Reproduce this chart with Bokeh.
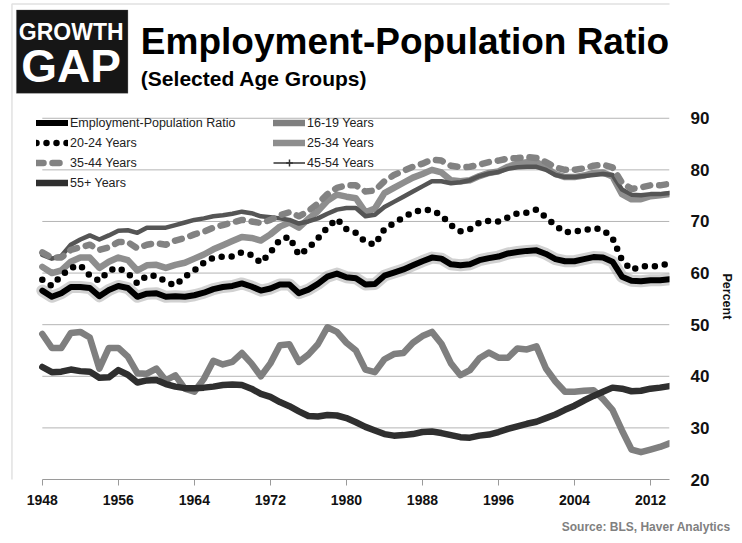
import math
from bokeh.plotting import figure
from bokeh.models import (Range1d, FixedTicker, Label, BoxAnnotation, Legend,
                          LegendItem, Title)
from bokeh.embed import file_html
from bokeh.resources import INLINE

# ---------------- data (annual) ----------------
years = list(range(1948, 2015))

emp_pop = [56.6, 55.4, 56.1, 57.3, 57.3, 57.1, 55.5, 56.7, 57.5, 57.1,
           55.4, 56.0, 56.1, 55.4, 55.5, 55.4, 55.7, 56.2, 56.9, 57.3,
           57.5, 58.0, 57.4, 56.6, 57.0, 57.8, 57.8, 56.1, 56.8, 57.9,
           59.3, 59.9, 59.2, 59.0, 57.8, 57.9, 59.5, 60.1, 60.7, 61.5,
           62.3, 63.0, 62.8, 61.7, 61.5, 61.7, 62.5, 62.9, 63.2, 63.8,
           64.1, 64.3, 64.4, 63.7, 62.7, 62.3, 62.3, 62.7, 63.1, 63.0,
           62.2, 59.3, 58.5, 58.4, 58.6, 58.6, 58.8]

age_16_19 = [48.2, 45.5, 45.5, 48.4, 48.6, 47.5, 41.5, 45.5, 45.5, 43.8,
             40.6, 40.5, 41.5, 39.2, 40.2, 37.6, 37.0, 39.5, 43.0, 42.3,
             42.8, 44.5, 42.5, 40.0, 42.5, 46.0, 46.2, 42.8, 44.2, 46.2,
             49.5, 48.6, 46.5, 45.0, 41.3, 40.8, 43.3, 44.3, 44.5, 46.5,
             47.8, 48.6, 46.3, 42.5, 40.2, 41.2, 43.5, 44.6, 43.6, 43.6,
             45.4, 45.2, 45.8, 41.5, 39.0, 37.0, 37.0, 37.2, 37.3, 35.6,
             33.5, 29.5, 25.8, 25.3, 25.8, 26.3, 27.0]

age_20_24 = [58.7, 57.5, 59.5, 61.0, 61.5, 59.5, 58.5, 60.5, 61.0, 60.0,
             58.0, 59.5, 59.5, 58.3, 57.6, 59.3, 60.5, 62.0, 63.0, 63.2,
             63.2, 64.0, 63.5, 62.0, 64.0, 66.5, 67.0, 63.5, 64.8, 66.7,
             68.8, 70.5, 68.5, 67.8, 66.0, 65.5, 68.5, 69.7, 70.8, 71.8,
             72.2, 72.2, 71.2, 69.3, 68.1, 68.5, 69.8, 70.1, 70.0, 70.8,
             71.6, 71.7, 72.3, 70.8, 69.2, 67.9, 68.1, 68.3, 68.7, 68.4,
             66.8, 62.5, 60.6, 61.3, 61.3, 61.4, 61.9]

age_25_34 = [61.2, 60.0, 60.5, 62.2, 63.0, 63.0, 61.0, 62.2, 63.0, 62.5,
             60.5, 61.5, 61.6, 61.0, 61.6, 62.0, 62.8, 63.6, 64.6, 65.4,
             66.2, 67.0, 66.8, 66.3, 67.5, 69.0, 69.8, 68.8, 70.5, 72.0,
             74.0, 75.2, 74.8, 74.5, 71.8, 72.5, 75.5, 76.5, 77.5, 78.5,
             79.2, 80.0, 79.5, 78.0, 77.8, 78.0, 78.8, 79.4, 79.7, 80.6,
             81.2, 81.5, 81.5, 80.4, 79.2, 78.6, 78.6, 78.9, 79.4, 79.5,
             78.7, 75.3, 74.3, 74.3, 74.9, 75.1, 75.3]

age_35_44 = [64.0, 63.0, 63.0, 64.5, 65.0, 65.5, 64.5, 65.0, 66.0, 66.0,
             64.8, 65.5, 65.8, 65.5, 66.3, 66.8, 67.5, 68.0, 68.8, 69.3,
             69.8, 70.3, 70.0, 69.7, 70.3, 71.2, 71.8, 71.0, 72.0, 73.5,
             75.3, 76.5, 77.0, 77.0, 75.8, 76.0, 77.8, 79.0, 79.8, 80.6,
             81.2, 82.0, 81.8, 80.8, 80.5, 80.6, 81.0, 81.5, 81.8, 82.2,
             82.3, 82.5, 82.3, 81.5, 80.5, 80.0, 80.0, 80.3, 80.8, 81.0,
             80.5, 77.5, 76.3, 76.6, 77.0, 77.0, 77.3]

age_45_54 = [63.5, 62.8, 63.3, 65.5, 66.5, 67.3, 66.5, 67.3, 68.2, 68.3,
             67.8, 68.8, 68.8, 68.8, 69.3, 69.8, 70.3, 70.6, 71.0, 71.2,
             71.5, 71.9, 71.6, 71.0, 70.8, 70.6, 70.3, 69.6, 70.0, 70.6,
             71.5, 72.3, 72.6, 72.6, 71.0, 71.3, 72.8, 73.8, 74.8, 75.8,
             76.8, 77.8, 77.8, 77.4, 77.6, 78.0, 78.8, 79.3, 79.6, 80.2,
             80.5, 80.6, 80.6, 80.0, 79.0, 78.6, 78.6, 78.8, 79.0, 79.2,
             79.0, 76.2, 75.2, 75.1, 75.3, 75.3, 75.5]

age_55_plus = [41.8, 40.8, 40.9, 41.3, 41.0, 40.9, 39.7, 39.8, 41.2, 40.3,
               38.8, 39.2, 39.3, 38.5, 38.0, 37.7, 37.7, 37.8, 38.0, 38.3,
               38.4, 38.3, 37.6, 36.6, 36.0, 35.0, 34.2, 33.2, 32.3, 32.2,
               32.5, 32.4, 31.9, 31.1, 30.2, 29.5, 28.8, 28.5, 28.6, 28.8,
               29.2, 29.3, 29.0, 28.6, 28.2, 28.1, 28.5, 28.7, 29.2, 29.8,
               30.3, 30.8, 31.2, 31.9, 32.6, 33.5, 34.3, 35.3, 36.2, 37.0,
               37.8, 37.6, 37.1, 37.2, 37.6, 37.8, 38.1]

x_ticks = [1948, 1956, 1964, 1972, 1980, 1988, 1996, 2004, 2012]
y_ticks = [20, 30, 40, 50, 60, 70, 80, 90]
grid_levels = [30, 40, 50, 60, 70, 80, 90]

# ---------------- layout ----------------
FONT = "Liberation Sans"
W, H = 742, 543
BR, BB = 70, 63                    # right / bottom borders (axes)
PLOT_L, PLOT_T = 42, 118           # where the data area starts inside the frame
FW, FH = W - BR, H - BB            # frame = whole canvas except the axis panels
XA, XB = years[0], years[-1]
YA, YB = y_ticks[0], y_ticks[-1]
PX_X = (FW - PLOT_L) / (XB - XA)
PX_Y = (FH - PLOT_T) / (YB - YA)
x_start = XA - PLOT_L / PX_X
y_end = YB + PLOT_T / PX_Y


def dx(px):   # canvas px from left -> data x
    return x_start + px / PX_X


def dy(py):   # canvas px from top -> data y
    return YA + (FH - py) / PX_Y


p = figure(width=W, height=H, output_backend="svg", toolbar_location=None,
           x_range=Range1d(x_start, XB), y_range=Range1d(YA, y_end),
           y_axis_location="right", min_border_left=0, min_border_top=0,
           min_border_right=BR, min_border_bottom=BB)
p.outline_line_color = None
p.background_fill_color = "white"
p.border_fill_color = "white"

xa = p.xaxis[0]
xa.ticker = FixedTicker(ticks=x_ticks)
xa.bounds = (XA, XB)
xa.axis_line_color = "#9a9a9a"
xa.major_tick_line_color = "#9a9a9a"
xa.major_tick_out = 6
xa.major_tick_in = 0
xa.minor_tick_line_color = None
xa.major_label_text_font = FONT
xa.major_label_text_font_style = "bold"
xa.major_label_text_font_size = "14px"
xa.major_label_text_color = "#111111"
xa.major_label_standoff = 9

ya = p.yaxis[0]
ya.ticker = FixedTicker(ticks=y_ticks)
ya.axis_line_color = None
ya.major_tick_line_color = None
ya.minor_tick_line_color = None
ya.major_label_text_font = FONT
ya.major_label_text_font_style = "bold"
ya.major_label_text_font_size = "17px"
ya.major_label_text_color = "#111111"
ya.major_label_standoff = 15

p.xgrid.visible = False
p.ygrid.visible = False

# horizontal gridlines over the data span
p.segment(x0=XA, x1=XB, y0=grid_levels, y1=grid_levels,
          line_color="#b4b4b4", line_width=1)

# ---------------- series ----------------
r1619 = p.line(years, age_16_19, line_color="#7f7f7f", line_width=6.5,
               line_join="round", line_cap="round")
r55 = p.line(years, age_55_plus, line_color="#2f2f2f", line_width=6.5,
             line_join="round", line_cap="round")
r2534 = p.line(years, age_25_34, line_color="#8e8e8e", line_width=6.5,
               line_join="round", line_cap="round")
r4554 = p.line(years, age_45_54, line_color="#555555", line_width=4.5,
               line_join="round", line_cap="round")
r3544 = p.line(years, age_35_44, line_color="#828282", line_width=6.5,
               line_dash="7 9", line_cap="round", line_join="round")
r2024 = p.line(years, age_20_24, line_color="#000000", line_width=6.5,
               line_dash="0 10", line_cap="round", line_join="round")
p.line(years, emp_pop, line_color="#9a9a9a", line_width=12, line_alpha=0.45,
       line_join="round", line_cap="round")
remp = p.line(years, emp_pop, line_color="#000000", line_width=6,
              line_join="round", line_cap="round")

# legend-only glyphs for 45-54 (no visible data points)
nan2 = [math.nan, math.nan]
l4554 = p.line(years[:2], nan2, line_color="#333333", line_width=1.5)
m4554 = p.scatter(years[:2], nan2, marker="cross", size=6,
                  line_color="#333333", line_width=1.5)

leg_kw = dict(orientation="vertical", glyph_width=32, glyph_height=17,
              label_height=17, spacing=3, padding=0, margin=0,
              label_standoff=2, border_line_color=None,
              background_fill_alpha=0, label_text_font=FONT,
              label_text_font_size="12.5px", label_text_color="#222222")

leg1 = Legend(items=[LegendItem(label="Employment-Population Ratio", renderers=[remp]),
                     LegendItem(label="20-24 Years", renderers=[r2024]),
                     LegendItem(label="35-44 Years", renderers=[r3544]),
                     LegendItem(label="55+ Years", renderers=[r55])],
              location=(36, 288), **leg_kw)
leg2 = Legend(items=[LegendItem(label="16-19 Years", renderers=[r1619]),
                     LegendItem(label="25-34 Years", renderers=[r2534]),
                     LegendItem(label="45-54 Years", renderers=[l4554, m4554])],
              location=(273, 308), **leg_kw)
p.add_layout(leg1)
p.add_layout(leg2)

# ---------------- header / decorations ----------------
p.add_layout(BoxAnnotation(left=dx(11.5), right=dx(W + 50), top=dy(3.5), bottom=dy(H + 50),
                           fill_alpha=0, line_color="#9a9a9a", line_width=1.5))
p.add_layout(BoxAnnotation(left=dx(16), right=dx(128), top=dy(9.5), bottom=dy(93),
                           fill_color="#161616", fill_alpha=1,
                           line_color="#555555", line_width=1))
T = dict(text_font=FONT, text_font_style="bold", text_baseline="middle")
p.add_layout(Label(x=dx(71), y=dy(32), text="GROWTH", text_font_size="23px",
                   text_color="white", text_align="center", **T))
p.add_layout(Label(x=dx(71), y=dy(65.5), text="GAP", text_font_size="46px",
                   text_color="white", text_align="center", **T))
p.add_layout(Label(x=dx(141), y=dy(41), text="Employment-Population Ratio",
                   text_font_size="37px", text_color="#000000", **T))
p.add_layout(Label(x=dx(141), y=dy(78.5), text="(Selected Age Groups)",
                   text_font_size="21px", text_color="#000000", **T))

# axis title on the right and source line below (titles are drawn outside the frame)
p.add_layout(Title(text="Percent", align="left", offset=273, standoff=14,
                   text_font=FONT, text_font_style="bold", text_font_size="12.5px",
                   text_color="#111111"), "right")
p.add_layout(Title(text="Source: BLS, Haver Analytics", align="right", offset=-61,
                   standoff=20, text_font=FONT, text_font_style="bold",
                   text_font_size="12px", text_color="#808080"), "below")

open("out.html", "w").write(file_html(p, INLINE, title="Employment-Population Ratio"))
